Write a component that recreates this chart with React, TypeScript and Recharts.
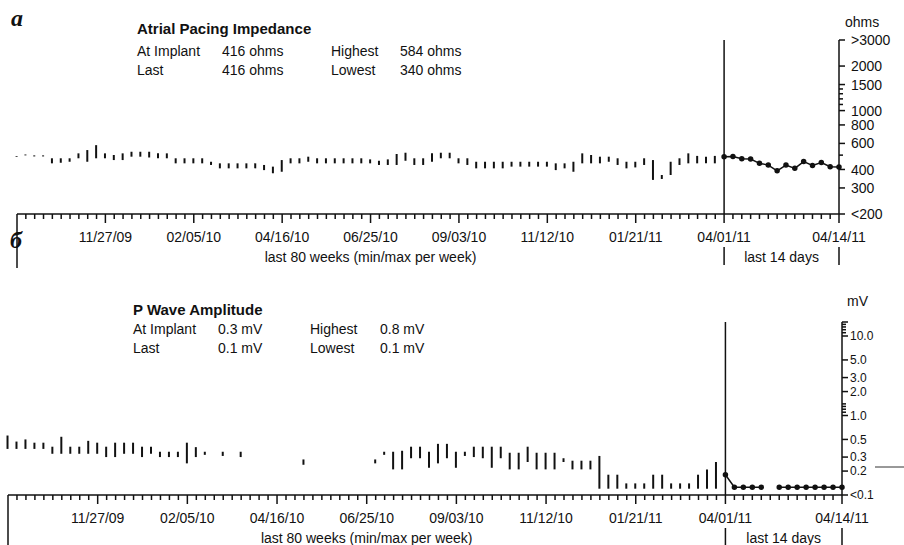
import React from 'react';
import { ComposedChart, Bar, Line, XAxis, YAxis, ReferenceLine } from 'recharts';

// x positions: weeks 0..79 (last 80 weeks), then days 80..93 (last 14 days)
const WEEK_LABELS: Record<number, string> = {
  10: '11/27/09',
  20: '02/05/10',
  30: '04/16/10',
  40: '06/25/10',
  50: '09/03/10',
  60: '11/12/10',
  70: '01/21/11',
  80: '04/01/11',
  93: '04/14/11',
};

// Atrial pacing impedance, ohms (min/max per week)
const impMin = [
  485, 498, 490, 490, 440, 444, 451, 476, 451, 476,
  476, 463, 463, 488, 488, 482, 476, 476, 440, 440,
  440, 440, 429, 407, 407, 407, 407, 407, 396, 377,
  386, 440, 440, 451, 440, 440, 440, 440, 440, 440,
  440, 429, 429, 429, 458, 429, 429, 451, 476, 476,
  440, 429, 407, 407, 407, 407, 418, 418, 418, 418,
  418, 396, 407, 386, 440, 440, 440, 451, 429, 407,
  413, 429, 340, 345, 367, 429, 440, 440, 440, 440,
];
const impMax = [
  492, 505, 498, 498, 476, 476, 476, 514, 541, 584,
  514, 501, 514, 527, 527, 527, 514, 514, 476, 476,
  476, 476, 451, 440, 440, 440, 440, 440, 429, 418,
  463, 476, 476, 488, 476, 476, 476, 476, 476, 476,
  468, 458, 468, 509, 519, 476, 476, 514, 519, 519,
  476, 476, 451, 451, 451, 451, 451, 451, 451, 451,
  451, 440, 440, 451, 514, 501, 488, 488, 476, 451,
  451, 476, 463, 367, 451, 476, 514, 494, 488, 494,
];
// last 14 days, ohms
const impDaily = [488, 490, 473, 470, 440, 428, 392, 428, 407, 452, 426, 445, 418, 416];

const IMP_TICKS = [200, 300, 400, 500, 600, 800, 1000, 1100, 1200, 1300, 1400, 1500, 2000, 3000];
const IMP_LABELS: Record<number, string> = {
  200: '<200', 300: '300', 400: '400', 600: '600', 800: '800',
  1000: '1000', 1500: '1500', 2000: '2000', 3000: '>3000',
};

// P wave amplitude, mV (min/max per week, null = no data)
const pwMin: (number | null)[] = [
  0.38, 0.38, 0.38, 0.38, 0.38, 0.33, 0.33, 0.33, 0.33, 0.33,
  0.33, 0.30, 0.30, 0.33, 0.33, 0.30, 0.33, 0.30, 0.30, 0.30,
  0.25, 0.30, 0.32, null, 0.31, null, 0.30, null, null, null,
  null, null, null, 0.24, null, null, null, null, null, null,
  null, 0.25, 0.32, 0.21, 0.21, 0.29, 0.29, 0.22, 0.25, 0.29,
  0.22, 0.31, 0.30, 0.29, 0.22, 0.29, 0.21, 0.21, 0.26, 0.21,
  0.21, 0.21, 0.26, 0.21, 0.21, 0.21, 0.12, 0.12, 0.12, 0.12,
  0.12, 0.12, 0.12, 0.12, 0.12, 0.12, 0.12, 0.12, 0.12, 0.12,
];
const pwMax: (number | null)[] = [
  0.56, 0.47, 0.50, 0.455, 0.455, 0.405, 0.54, 0.405, 0.405, 0.48,
  0.455, 0.405, 0.455, 0.455, 0.455, 0.405, 0.405, 0.35, 0.35, 0.35,
  0.455, 0.40, 0.35, null, 0.35, null, 0.35, null, null, null,
  null, null, null, 0.28, null, null, null, null, null, null,
  null, 0.28, 0.35, 0.35, 0.36, 0.405, 0.405, 0.35, 0.44, 0.44,
  0.35, 0.35, 0.405, 0.405, 0.405, 0.405, 0.34, 0.34, 0.405, 0.34,
  0.34, 0.34, 0.29, 0.27, 0.27, 0.27, 0.31, 0.18, 0.18, 0.14,
  0.14, 0.14, 0.18, 0.18, 0.14, 0.14, 0.14, 0.18, 0.21, 0.26,
];
const pwDaily: (number | null)[] = [0.18, 0.125, 0.125, 0.125, 0.125, null, 0.125, 0.125, 0.125, 0.125, 0.125, 0.125, 0.125, 0.125];

const PW_TICKS = [0.1, 0.2, 0.3, 0.5, 1, 1.1, 1.2, 1.3, 1.4, 2, 3, 5, 10, 11, 12, 13, 14, 15];
const PW_LABELS: Record<number, string> = {
  0.1: '<0.1', 0.2: '0.2', 0.3: '0.3', 0.5: '0.5', 1: '1.0',
  2: '2.0', 3: '3.0', 5: '5.0', 10: '10.0',
};

const X_TICKS = [...Array.from({ length: 94 }, (_, i) => i), 86.5];

const FONT = '"Liberation Sans", Arial, sans-serif';
const INK = '#111';

function buildData(mins: (number | null)[], maxs: (number | null)[], daily: (number | null)[]) {
  const rows: any[] = [];
  mins.forEach((lo, i) => {
    const hi = maxs[i];
    rows.push({ x: i, range: lo != null && hi != null ? [lo, hi] : null });
  });
  daily.forEach((v, d) => rows.push({ x: 80 + d, daily: v }));
  return rows;
}

const impData = buildData(impMin, impMax, impDaily);
const pwData = buildData(pwMin, pwMax, pwDaily);

function XTick(props: any) {
  const { x, y, payload, drop } = props;
  const v = payload.value;
  const txt = { fontFamily: FONT, fontSize: 14, fill: INK } as const;
  if (v === 86.5) {
    return <text x={x} y={y + 48} textAnchor="middle" {...txt}>last 14 days</text>;
  }
  let len = 5;
  if (v === 0) len = drop;
  else if (WEEK_LABELS[v]) len = 9;
  return (
    <g>
      <line x1={x} x2={x} y1={y} y2={y + len} stroke={INK} strokeWidth={1.5} />
      {WEEK_LABELS[v] && (
        <text x={x} y={y + 28} textAnchor="middle" {...txt}>{WEEK_LABELS[v]}</text>
      )}
      {v === 40 && (
        <text x={x} y={y + 48} textAnchor="middle" {...txt}>last 80 weeks (min/max per week)</text>
      )}
      {(v === 80 || v === 93) && (
        <line x1={x} x2={x} y1={y + 33} y2={y + 51} stroke={INK} strokeWidth={1.5} />
      )}
    </g>
  );
}

function YTick(props: any) {
  const { x, y, payload, labels, gap, size } = props;
  const lab = labels[payload.value];
  return (
    <g>
      <line x1={x} x2={x + (lab || payload.value === 15 ? 6 : 4)} y1={y} y2={y} stroke={INK} strokeWidth={1.5} />
      {lab && (
        <text x={x + gap} y={y} dy={size * 0.36} fontFamily={FONT} fontSize={size} fill={INK}>{lab}</text>
      )}
    </g>
  );
}

export default function App() {
  const t = { fontFamily: FONT, fontSize: 14, fill: INK } as const;
  const b = { ...t, fontSize: 15, fontWeight: 700 } as const;
  const serif = { fontFamily: '"Liberation Serif", "DejaVu Serif", serif', fontSize: 24, fontStyle: 'italic', fontWeight: 700, fill: INK } as const;

  return (
    <div style={{ position: 'absolute', left: 0, top: 0, width: 904, height: 545, background: '#fff' }}>
      <div style={{ position: 'absolute', left: 0, top: 0 }}>
        <ComposedChart width={904} height={280} data={impData} margin={{ top: 40, right: 5, left: 17, bottom: 36 }}>
          <XAxis
            dataKey="x"
            type="number"
            domain={[0, 93]}
            ticks={X_TICKS}
            interval={0}
            height={30}
            tickSize={0}
            tickMargin={0}
            tickLine={false}
            axisLine={{ stroke: INK, strokeWidth: 1.5 }}
            tick={(p: any) => <XTick {...p} drop={54} />}
          />
          <YAxis
            orientation="right"
            scale="log"
            domain={[200, 3000]}
            ticks={IMP_TICKS}
            interval={0}
            width={60}
            tickSize={0}
            tickMargin={0}
            tickLine={false}
            allowDataOverflow
            axisLine={{ stroke: INK, strokeWidth: 1.5 }}
            tick={(p: any) => <YTick {...p} labels={IMP_LABELS} gap={12} size={14} />}
          />
          <ReferenceLine x={80} stroke={INK} strokeWidth={1.5} />
          <Bar dataKey="range" barSize={2} fill={INK} isAnimationActive={false} />
          <Line
            dataKey="daily"
            stroke={INK}
            strokeWidth={1.5}
            dot={{ r: 2, fill: INK, stroke: INK }}
            connectNulls={false}
            isAnimationActive={false}
          />
        </ComposedChart>
      </div>
      <div style={{ position: 'absolute', left: 0, top: 280 }}>
        <ComposedChart width={904} height={265} data={pwData} margin={{ top: 42, right: 5, left: 8, bottom: 20 }}>
          <XAxis
            dataKey="x"
            type="number"
            domain={[0, 93]}
            ticks={X_TICKS}
            interval={0}
            height={30}
            tickSize={0}
            tickMargin={0}
            tickLine={false}
            axisLine={{ stroke: INK, strokeWidth: 1.5 }}
            tick={(p: any) => <XTick {...p} drop={50} />}
          />
          <YAxis
            orientation="right"
            scale="log"
            domain={[0.1, 15]}
            ticks={PW_TICKS}
            interval={0}
            width={57}
            tickSize={0}
            tickMargin={0}
            tickLine={false}
            allowDataOverflow
            axisLine={{ stroke: INK, strokeWidth: 1.5 }}
            tick={(p: any) => <YTick {...p} labels={PW_LABELS} gap={8} size={12} />}
          />
          <ReferenceLine x={80} stroke={INK} strokeWidth={1.5} />
          <Bar dataKey="range" barSize={2} fill={INK} isAnimationActive={false} />
          <Line
            dataKey="daily"
            stroke={INK}
            strokeWidth={1.5}
            dot={{ r: 2, fill: INK, stroke: INK }}
            connectNulls={false}
            isAnimationActive={false}
          />
        </ComposedChart>
      </div>
      <svg width={904} height={545} style={{ position: 'absolute', left: 0, top: 0, pointerEvents: 'none' }}>
        <text x={11} y={26} {...serif}>a</text>
        <text x={10} y={248} {...serif}>б</text>

        <text x={137} y={34} {...b}>Atrial Pacing Impedance</text>
        <text x={137} y={56} {...t}>At Implant</text>
        <text x={222} y={56} {...t}>416 ohms</text>
        <text x={331} y={56} {...t}>Highest</text>
        <text x={400} y={56} {...t}>584 ohms</text>
        <text x={137} y={75} {...t}>Last</text>
        <text x={222} y={75} {...t}>416 ohms</text>
        <text x={331} y={75} {...t}>Lowest</text>
        <text x={400} y={75} {...t}>340 ohms</text>
        <text x={845} y={27} {...t}>ohms</text>

        <text x={133} y={315} {...b}>P Wave Amplitude</text>
        <text x={133} y={334} {...t}>At Implant</text>
        <text x={218} y={334} {...t}>0.3 mV</text>
        <text x={310} y={334} {...t}>Highest</text>
        <text x={380} y={334} {...t}>0.8 mV</text>
        <text x={133} y={353} {...t}>Last</text>
        <text x={218} y={353} {...t}>0.1 mV</text>
        <text x={310} y={353} {...t}>Lowest</text>
        <text x={380} y={353} {...t}>0.1 mV</text>
        <text x={847} y={306} {...t}>mV</text>

        <line x1={875} x2={904} y1={467} y2={467} stroke="#333" strokeWidth={1} />
      </svg>
    </div>
  );
}
